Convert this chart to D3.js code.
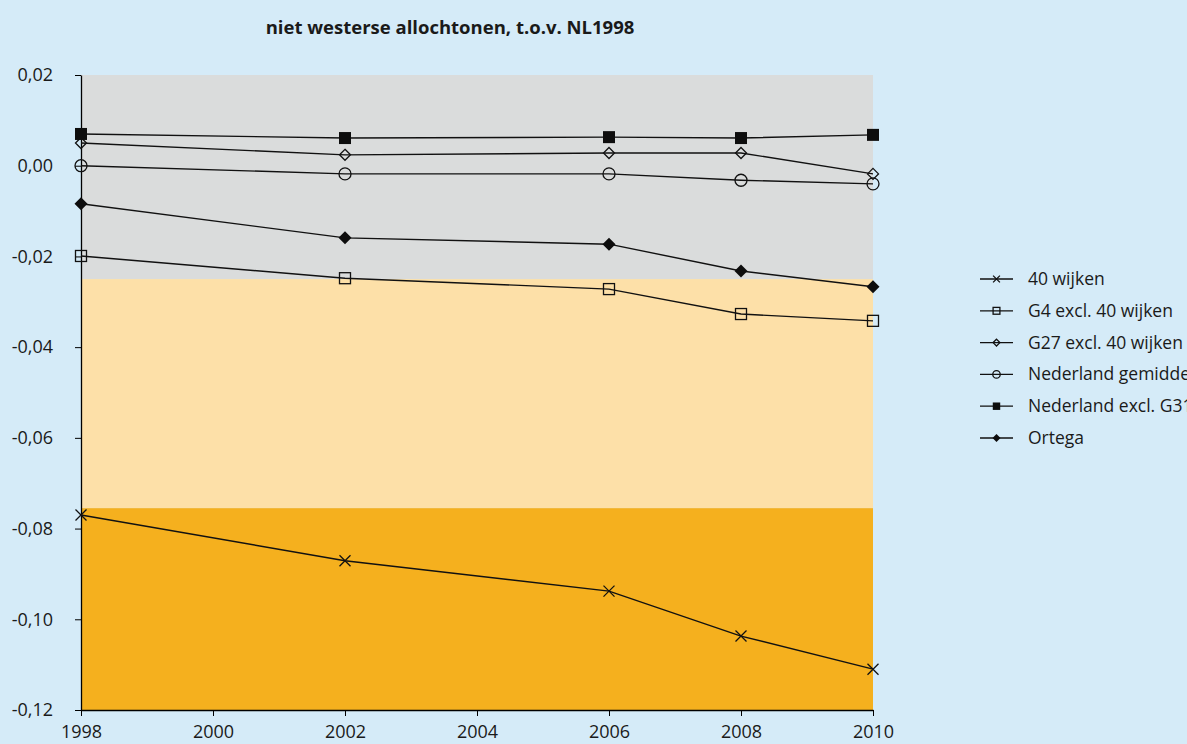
<!DOCTYPE html>
<html><head><meta charset="utf-8">
<script src="https://cdn.jsdelivr.net/npm/d3@7"></script>
<style>body{margin:0;background:#d5ebf8;}svg{display:block;font-family:"Open Sans",sans-serif;}</style>
</head><body>
<svg id="c" width="1187" height="744"></svg>
<script>
const years = [1998, 2002, 2006, 2008, 2010];
const seriesNames = ["40 wijken","G4 excl. 40 wijken","G27 excl. 40 wijken","Nederland gemiddeld","Nederland excl. G31","Ortega"];
const s40wijken = [-0.0770,-0.0871,-0.0938,-0.1037,-0.1110];
const sG4 = [-0.0199,-0.0248,-0.0272,-0.0327,-0.0342];
const sG27 = [0.0050,0.0024,0.0028,0.0028,-0.0018];
const sNLgem = [0.0000,-0.0018,-0.0018,-0.0032,-0.0040];
const sNLexcl = [0.0070,0.0061,0.0063,0.0061,0.0068];
const sOrtega = [-0.0084,-0.0159,-0.0173,-0.0232,-0.0267];
const bandEdges = [0.02,-0.025,-0.0755,-0.12];
const bandColors = ["#dadcdc","#fde0a8","#f5b01e"];
const yTicks = [0.02,0,-0.02,-0.04,-0.06,-0.08,-0.10,-0.12];
const xTicks = [1998,2000,2002,2004,2006,2008,2010];
const markers = ["x","sq","dia","circ","fsq","fdia"];
const allSeries = [s40wijken,sG4,sG27,sNLgem,sNLexcl,sOrtega];

const svg = d3.select("#c");
const x = d3.scaleLinear().domain([1998,2010]).range([81,873]);
const y = d3.scaleLinear().domain([-0.12,0.02]).range([710,75]);

svg.append("text").attr("x",450).attr("y",34).attr("text-anchor","middle")
  .attr("font-size",18.5).attr("font-weight","bold").attr("fill","#1a1a1a")
  .text("niet westerse allochtonen, t.o.v. NL1998");

for(let i=0;i<bandColors.length;i++){
  svg.append("rect").attr("x",x(1998)).attr("width",x(2010)-x(1998))
    .attr("y",y(bandEdges[i])).attr("height",y(bandEdges[i+1])-y(bandEdges[i]))
    .attr("fill",bandColors[i]);
}

const fmt = v => d3.format(".2f")(v).replace(".",",").replace("−","-");
const ya = svg.append("g").attr("transform",`translate(${x(1998)},0)`)
  .call(d3.axisLeft(y).tickValues(yTicks).tickSize(6).tickSizeOuter(0).tickFormat(fmt).tickPadding(22));
ya.select(".domain").attr("stroke","#000").attr("stroke-width",1.3);
ya.selectAll("text").attr("font-size",18).attr("fill","#1a1a1a").attr("font-family","Open Sans");
ya.selectAll(".tick line").attr("stroke","#000");

const xa = svg.append("g").attr("transform",`translate(0,${y(-0.12)})`)
  .call(d3.axisBottom(x).tickValues(xTicks).tickSize(6).tickSizeOuter(0).tickFormat(d3.format("d")).tickPadding(9));
xa.select(".domain").attr("stroke","#000").attr("stroke-width",1.3);
xa.selectAll("text").attr("font-size",18).attr("fill","#1a1a1a").attr("font-family","Open Sans");
xa.selectAll(".tick line").attr("stroke","#000");

function drawMarker(g, type, cx, cy, scale){
  const s = scale||1;
  if(type==="x"){
    const r=5.5*s;
    g.append("path").attr("d",`M${cx-r},${cy-r}L${cx+r},${cy+r}M${cx-r},${cy+r}L${cx+r},${cy-r}`).attr("stroke","#111").attr("stroke-width",1.3).attr("fill","none");
  } else if(type==="sq"){
    const r=5.5*s;
    g.append("rect").attr("x",cx-r).attr("y",cy-r).attr("width",2*r).attr("height",2*r).attr("fill","none").attr("stroke","#111").attr("stroke-width",1.3);
  } else if(type==="fsq"){
    const r=6*s;
    g.append("rect").attr("x",cx-r).attr("y",cy-r).attr("width",2*r).attr("height",2*r).attr("fill","#0d0d0d");
  } else if(type==="dia"){
    const r=5.5*s;
    g.append("path").attr("d",`M${cx},${cy-r}L${cx+r},${cy}L${cx},${cy+r}L${cx-r},${cy}Z`).attr("fill","none").attr("stroke","#111").attr("stroke-width",1.3);
  } else if(type==="fdia"){
    const r=6.5*s;
    g.append("path").attr("d",`M${cx},${cy-r}L${cx+r},${cy}L${cx},${cy+r}L${cx-r},${cy}Z`).attr("fill","#0d0d0d");
  } else if(type==="circ"){
    g.append("circle").attr("cx",cx).attr("cy",cy).attr("r",6*s).attr("fill","none").attr("stroke","#111").attr("stroke-width",1.3);
  }
}

const line = d3.line().x((d,i)=>x(years[i])).y(d=>y(d));
const plot = svg.append("g");
allSeries.forEach((vals,k)=>{
  plot.append("path").attr("d",line(vals)).attr("fill","none").attr("stroke","#111").attr("stroke-width",1.4);
  vals.forEach((v,i)=>drawMarker(plot,markers[k],x(years[i]),y(v),1));
});

const leg = svg.append("g");
seriesNames.forEach((n,i)=>{
  const ly = 279 + i*31.8;
  leg.append("line").attr("x1",980).attr("x2",1013).attr("y1",ly).attr("y2",ly).attr("stroke","#111").attr("stroke-width",1.3);
  drawMarker(leg,markers[i],996.5,ly,0.62);
  leg.append("text").attr("x",1028).attr("y",ly+6).attr("font-size",17.5).attr("fill","#1a1a1a").text(n);
});
</script>
</body></html>
